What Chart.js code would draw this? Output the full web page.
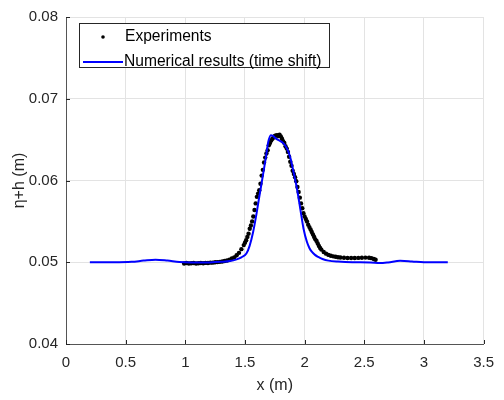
<!DOCTYPE html>
<html>
<head>
<meta charset="utf-8">
<script src="https://cdn.jsdelivr.net/npm/chart.js@4.4.0/dist/chart.umd.min.js"></script>
<style>
  html, body { margin: 0; padding: 0; background: #fff; }
</style>
</head>
<body>
<canvas id="chart" width="504" height="400"></canvas>
<script>
const seriesLabels = ["Experiments", "Numerical results (time shift)"];
const xTitle = "x (m)";
const yTitle = "\u03B7+h (m)";

// measured free-surface points
const expX = [
  0.99, 1.01, 1.03, 1.05, 1.07, 1.09, 1.11, 1.13, 1.15, 1.17, 1.19, 1.21, 1.23, 1.25, 1.27, 1.29,
  1.31, 1.33, 1.35, 1.37, 1.39, 1.41, 1.43, 1.45, 1.47, 1.49, 1.50, 1.51, 1.52, 1.53, 1.54, 1.55,
  1.56, 1.57, 1.58, 1.59, 1.60, 1.61, 1.62, 1.63, 1.64, 1.65, 1.66, 1.67, 1.68, 1.69, 1.70, 1.71,
  1.72, 1.73, 1.74, 1.75, 1.76, 1.77, 1.78, 1.79, 1.80, 1.81, 1.82, 1.83, 1.84, 1.85, 1.86, 1.87,
  1.88, 1.89, 1.90, 1.91, 1.92, 1.93, 1.94, 1.95, 1.96, 1.97, 1.98, 1.99, 2.00, 2.01, 2.02, 2.03,
  2.04, 2.05, 2.06, 2.07, 2.08, 2.09, 2.10, 2.11, 2.12, 2.13, 2.14, 2.16, 2.18, 2.20, 2.22, 2.24,
  2.26, 2.28, 2.30, 2.33, 2.36, 2.39, 2.42, 2.45, 2.48, 2.51, 2.54, 2.56, 2.58, 2.595
];
const expY = [
  0.04985, 0.04990, 0.04985, 0.04988, 0.04990, 0.04985, 0.04988, 0.04990, 0.04988, 0.04992, 0.04990, 0.04995, 0.04995, 0.05000, 0.05002, 0.05005,
  0.05010, 0.05015, 0.05022, 0.05032, 0.05045, 0.05060, 0.05085, 0.05115, 0.05160, 0.05210, 0.05240, 0.05270, 0.05310, 0.05350, 0.05410, 0.05450,
  0.05500, 0.05560, 0.05640, 0.05720, 0.05800, 0.05840, 0.05880, 0.05960, 0.06060, 0.06130, 0.06220, 0.06280, 0.06330, 0.06370, 0.06430, 0.06460,
  0.06490, 0.06510, 0.06525, 0.06545, 0.06550, 0.06555, 0.06545, 0.06560, 0.06540, 0.06510, 0.06480, 0.06460, 0.06420, 0.06390, 0.06350, 0.06290,
  0.06230, 0.06180, 0.06120, 0.06080, 0.06040, 0.05990, 0.05920, 0.05860, 0.05790, 0.05720, 0.05660, 0.05600, 0.05560, 0.05530, 0.05500, 0.05460,
  0.05430, 0.05400, 0.05370, 0.05340, 0.05310, 0.05280, 0.05260, 0.05230, 0.05200, 0.05175, 0.05155, 0.05125, 0.05105, 0.05090, 0.05080, 0.05072,
  0.05068, 0.05062, 0.05058, 0.05055, 0.05052, 0.05052, 0.05052, 0.05053, 0.05055, 0.05057, 0.05055, 0.05050, 0.05040, 0.05030
];

// simulated surface (time shifted)
const numX = [
  0.20, 0.40, 0.55, 0.65, 0.75, 0.85, 0.95, 1.05, 1.20, 1.30, 1.375, 1.43, 1.47, 1.512, 1.539, 1.567,
  1.594, 1.621, 1.649, 1.676, 1.695, 1.717, 1.735, 1.758, 1.786, 1.815, 1.841, 1.862, 1.882, 1.909, 1.937, 1.964,
  1.991, 2.019, 2.040, 2.060, 2.087, 2.114, 2.15, 2.20, 2.28, 2.40, 2.55, 2.63, 2.70, 2.80, 2.90, 3.00,
  3.20
];
const numY = [
  0.05000, 0.05000, 0.05005, 0.05020, 0.05032, 0.05020, 0.05002, 0.04996, 0.04998, 0.05005, 0.05015, 0.05035, 0.05060, 0.05106, 0.05200, 0.05360,
  0.05570, 0.05810, 0.06050, 0.06290, 0.06470, 0.06555, 0.06545, 0.06515, 0.06490, 0.06465, 0.06420, 0.06360, 0.06270, 0.06090, 0.05890, 0.05650,
  0.05410, 0.05250, 0.05175, 0.05130, 0.05090, 0.05065, 0.05040, 0.05020, 0.05008, 0.05000, 0.04998, 0.04990, 0.04998, 0.05018, 0.05010, 0.05000,
  0.05000
];

const FONT = "'Liberation Sans', Arial, sans-serif";
const AXIS_COLOR = "#262626";

// MATLAB-style inward tick marks on the left and bottom axes
const inwardTicks = {
  id: "inwardTicks",
  afterDraw(chart) {
    const { ctx, chartArea, scales } = chart;
    ctx.save();
    ctx.strokeStyle = AXIS_COLOR;
    ctx.lineWidth = 1;
    ctx.beginPath();
    scales.x.ticks.forEach((t) => {
      const px = Math.round(scales.x.getPixelForValue(t.value)) + 0.5;
      ctx.moveTo(px, chartArea.bottom);
      ctx.lineTo(px, chartArea.bottom - 4);
    });
    scales.y.ticks.forEach((t) => {
      const py = Math.round(scales.y.getPixelForValue(t.value)) + 0.5;
      ctx.moveTo(chartArea.left, py);
      ctx.lineTo(chartArea.left + 4, py);
    });
    ctx.stroke();
    ctx.restore();
  }
};

// legend box inside the axes, upper left
const legendBox = {
  id: "legendBox",
  afterDraw(chart) {
    const ctx = chart.ctx;
    ctx.save();
    ctx.fillStyle = "#fff";
    ctx.fillRect(79, 23, 250, 44);
    ctx.strokeStyle = AXIS_COLOR;
    ctx.lineWidth = 1;
    ctx.strokeRect(79.5, 23.5, 250, 44);

    ctx.fillStyle = "#000";
    ctx.beginPath();
    ctx.arc(103, 37, 1.8, 0, Math.PI * 2);
    ctx.fill();

    ctx.strokeStyle = "#0000ff";
    ctx.lineWidth = 2;
    ctx.beginPath();
    ctx.moveTo(83, 62);
    ctx.lineTo(123, 62);
    ctx.stroke();

    ctx.fillStyle = "#000";
    ctx.font = "15.6px " + FONT;
    ctx.textBaseline = "middle";
    ctx.fillText(seriesLabels[0], 125, 37);
    ctx.fillText(seriesLabels[1], 124, 62);
    ctx.restore();
  }
};

new Chart(document.getElementById("chart"), {
  type: "scatter",
  data: {
    datasets: [
      {
        label: seriesLabels[1],
        type: "line",
        data: numX.map((x, i) => ({ x, y: numY[i] })),
        borderColor: "#0000ff",
        borderWidth: 2,
        pointRadius: 0,
        fill: false,
        cubicInterpolationMode: "monotone",
        order: 0
      },
      {
        label: seriesLabels[0],
        data: expX.map((x, i) => ({ x, y: expY[i] })),
        backgroundColor: "#000",
        borderWidth: 0,
        pointRadius: 2.2,
        showLine: false,
        order: 1
      }
    ]
  },
  options: {
    responsive: false,
    animation: false,
    layout: { padding: { top: 13, right: 12, left: 0, bottom: 0 } },
    plugins: {
      legend: { display: false },
      tooltip: { enabled: false }
    },
    scales: {
      x: {
        type: "linear",
        min: 0,
        max: 3.5,
        afterFit: (scale) => { scale.height = 56; },
        ticks: {
          stepSize: 0.5,
          color: AXIS_COLOR,
          padding: 10,
          maxRotation: 0,
          font: { family: FONT, size: 15 },
          callback: (v) => String(Number(v.toFixed(1)))
        },
        grid: { color: "#e3e3e3", drawTicks: false },
        border: { color: "#555", width: 1 },
        title: {
          display: true,
          text: xTitle,
          color: AXIS_COLOR,
          font: { family: FONT, size: 16 },
          padding: { top: 0, bottom: 5 }
        }
      },
      y: {
        type: "linear",
        min: 0.04,
        max: 0.08,
        afterFit: (scale) => { scale.width = 66; },
        ticks: {
          stepSize: 0.01,
          color: AXIS_COLOR,
          padding: 8,
          font: { family: FONT, size: 15 },
          callback: (v) => v.toFixed(2)
        },
        grid: { color: "#e3e3e3", drawTicks: false },
        border: { color: "#555", width: 1 },
        title: {
          display: true,
          text: yTitle,
          color: AXIS_COLOR,
          font: { family: FONT, size: 16 },
          padding: { top: 10, bottom: 0 }
        }
      }
    }
  },
  plugins: [inwardTicks, legendBox]
});
</script>
</body>
</html>
